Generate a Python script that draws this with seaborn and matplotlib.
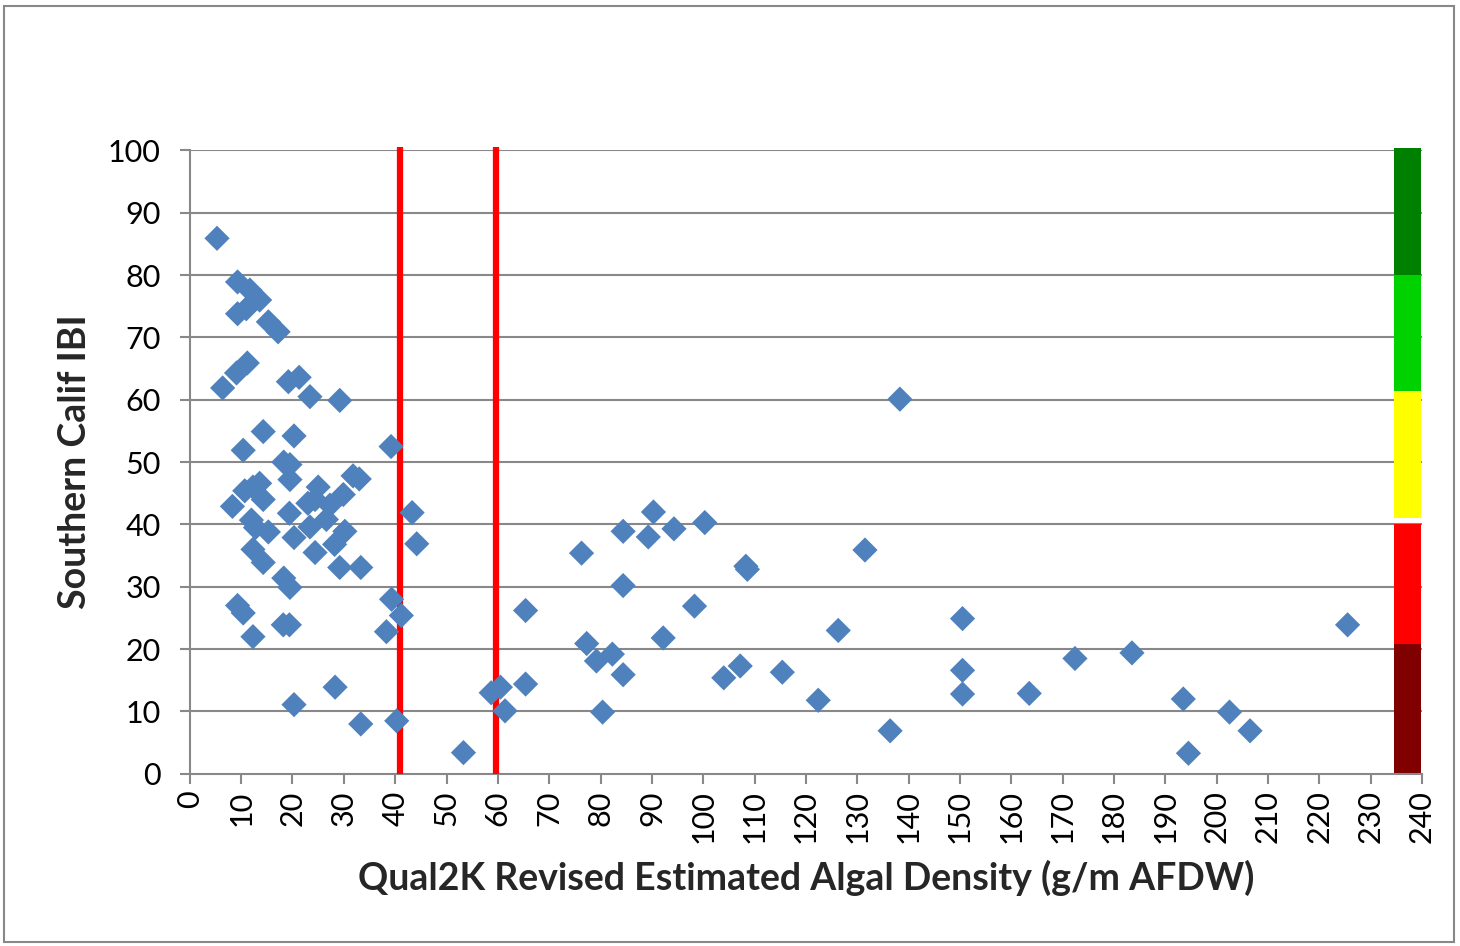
import matplotlib
matplotlib.use("Agg")
import matplotlib.pyplot as plt
from matplotlib.patches import Rectangle
import pandas as pd
import seaborn as sns

# algal density (g/m AFDW) vs Southern Calif IBI
algal_density = [5.3, 9.3, 11.7, 13.6, 9.3, 11.0, 15.3, 17.2, 6.4, 9.1, 11.2, 19.2, 21.3,
                 23.4, 29.2, 14.3, 20.3, 10.4, 39.2, 18.3, 19.5, 19.5, 8.3, 10.7, 12.3,
                 13.6, 14.3, 12.0, 12.8, 15.3, 12.3, 14.3, 19.4, 20.3, 25.0, 24.4, 27.3,
                 23.0, 29.9, 31.8, 33.0, 23.4, 26.6, 30.2, 24.4, 28.2, 29.2, 33.3, 18.3,
                 19.5, 9.3, 10.4, 12.3, 18.2, 19.4, 39.3, 41.2, 38.3, 20.3, 28.3, 33.3,
                 40.3, 43.3, 44.2, 53.3, 58.7, 60.5, 61.4, 65.4, 65.4, 76.3, 77.3, 79.2,
                 82.3, 84.4, 80.4, 84.4, 84.4, 89.3, 90.3, 94.3, 100.3, 98.3, 92.2, 104.0,
                 107.2, 108.3, 108.6, 115.4, 122.4, 126.3, 131.5, 136.4, 138.3, 150.5,
                 150.5, 150.5, 163.5, 172.4, 183.5, 193.5, 194.5, 202.5, 206.5, 225.5]
ibi_score = [85.9, 78.9, 77.6, 76.0, 73.8, 74.6, 72.5, 70.9, 61.9, 64.3, 65.9, 62.9, 63.6,
             60.5, 59.9, 54.9, 54.2, 51.9, 52.5, 50.0, 49.6, 47.2, 42.9, 45.4, 46.0,
             46.6, 44.0, 40.7, 39.5, 38.8, 36.0, 33.9, 41.8, 37.9, 46.0, 44.0, 43.1,
             43.4, 44.8, 47.8, 47.3, 39.6, 40.8, 38.9, 35.5, 36.8, 33.1, 33.1, 31.4,
             29.9, 27.0, 25.8, 22.0, 23.9, 23.9, 28.0, 25.4, 22.8, 11.1, 13.9, 8.0,
             8.5, 41.9, 36.9, 3.4, 13.0, 13.9, 10.1, 14.4, 26.2, 35.4, 20.9, 18.1,
             19.2, 15.9, 9.9, 38.9, 30.2, 38.0, 42.0, 39.3, 40.3, 26.9, 21.8, 15.4,
             17.3, 33.3, 32.8, 16.3, 11.8, 23.0, 35.9, 6.9, 60.1, 24.9,
             16.6, 12.8, 12.9, 18.5, 19.4, 12.0, 3.3, 9.9, 6.9, 23.9]

# threshold lines on the x axis
thresholds = [41, 59.7]

# IBI condition bands drawn as a colour strip at the right edge
band_bottoms = [0, 20.9, 41.0, 61.4, 80.0]
band_tops = [20.9, 40.0, 61.4, 80.0, 100.4]
band_colors = ["#800000", "#FF0000", "#FFFF00", "#00D200", "#008000"]

df = pd.DataFrame({"density": algal_density, "ibi": ibi_score})

sns.set_theme(style="white")
plt.rcParams["font.family"] = ["Lato", "DejaVu Sans"]

fig = plt.figure(figsize=(14.6, 9.46), dpi=100)
ax = fig.add_axes([0.130, 0.182, 0.844, 0.659])

grid_col = "#888888"
ax.set_xlim(0, 240)
ax.set_ylim(0, 100)
ax.set_yticks(range(0, 101, 10))
ax.set_xticks(range(0, 241, 10))
for v in range(10, 101, 10):
    ax.axhline(v, color=grid_col, lw=1.5, zorder=1)

# colour strip
strip_x = 237.2
for b, t, c in zip(band_bottoms, band_tops, band_colors):
    ax.bar(strip_x, t - b, bottom=b, width=5.2, color=c, lw=0, zorder=2, clip_on=False)

sns.scatterplot(data=df, x="density", y="ibi", marker="D", s=165, color="#4F81BD",
                edgecolor="none", linewidth=0, ax=ax, zorder=4)

ax.vlines(thresholds, 0, 100.5, colors="#FF0000", lw=4.5, zorder=3, clip_on=False)

for side in ["top", "right"]:
    ax.spines[side].set_visible(False)
for side in ["left", "bottom"]:
    ax.spines[side].set_color(grid_col)
    ax.spines[side].set_linewidth(1.5)

ax.tick_params(axis="both", which="major", direction="out", length=7, width=1.5,
               color=grid_col, labelcolor="black", labelsize=22)
ax.tick_params(axis="y", left=True, pad=14)
ax.tick_params(axis="x", bottom=True, labelrotation=90, pad=5)

ax.set_xlabel("Qual2K Revised Estimated Algal Density (g/m AFDW)", fontsize=27,
              fontweight="bold", labelpad=12)
ax.set_ylabel("Southern Calif IBI", fontsize=27, fontweight="bold", labelpad=11)

# chart area border
fig.patches.append(Rectangle((0.003, 0.004), 0.993, 0.99, transform=fig.transFigure,
                             fill=False, edgecolor=grid_col, lw=1.5))

fig.savefig("out.png", dpi=100)
